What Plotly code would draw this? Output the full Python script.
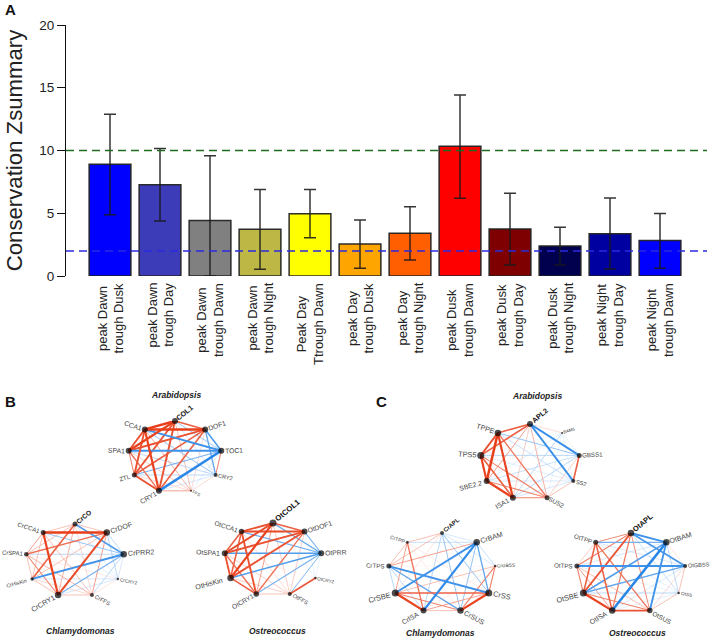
import math
import plotly.graph_objects as go

W, H = 714, 641

# ---------- panel A data ----------
categories = ["peak Dawn<br>trough Dusk", "peak Dawn<br>trough Day", "peak Dawn<br>trough Dawn",
              "peak Dawn<br>trough Night", "Peak Day<br>Ttrough Dawn", "peak Day<br>trough Dusk",
              "peak Day<br>trough Night", "peak Dusk<br>trough Dawn", "peak Dusk<br>trough Day",
              "peak Dusk<br>trough Night", "peak Night<br>trough Day", "peak Night<br>trough Dawn"]
zsummary = [8.9, 7.28, 4.43, 3.72, 4.97, 2.55, 3.4, 10.33, 3.75, 2.39, 3.37, 2.82]
err_up = [3.98, 2.87, 5.16, 3.18, 1.93, 1.91, 2.12, 4.09, 2.84, 1.49, 2.84, 2.17]
err_down = [4.01, 2.9, 4.43, 3.19, 1.92, 1.94, 2.13, 4.14, 2.87, 1.51, 2.81, 2.21]
bar_colors = ["#0000FF", "#3C3CB8", "#808080", "#BDB845", "#FFFF00", "#FFA500",
              "#FF5F00", "#FF0000", "#7F0000", "#00004F", "#0000A0", "#0000FF"]
threshold_high = 10
threshold_low = 2

# ---------- network data: upper-triangle edge rows, node order clockwise from the top ----------
b_arab_nodes = ["COL1", "DOF1", "TOC1", "CRY2", "FFS", "CRY1", "ZTL", "SPA1", "CCA1"]
b_arab_sizes = [6, 6, 6, 4, 2, 6, 5, 6, 6]
b_arab_edges = [[.7, -.4, -.2, .3, .8, .8, .9, 1], [-.7, -.6, .2, .7, .7, .8, 1],
                [.5, -.15, -1, -.5, -.8, -.8], [.2, -.2, -.3, -.3, -.4],
                [.4, .2, .25, .35], [.8, .6, .9], [.5, .8], [.8]]

b_chlamy_nodes = ["CrCO", "CrDOF", "CrPRR2", "CrCRY2", "CrFFS", "CrCRY1", "CrHisKin", "CrSPA1", "CrCCA1"]
b_chlamy_sizes = [5, 6.5, 6.5, 2.5, 4, 6.5, 3.5, 4.5, 5]
b_chlamy_edges = [[.3, -.7, -.15, .2, .35, .7, .3, .3], [-.3, -.3, .4, .85, .3, .6, 1],
                  [-.2, -.3, -.5, -.8, -.3, -.4], [.15, -.2, -.2, .1, -.15],
                  [.3, .2, .35, .3], [.3, .5, .9], [.3, .3], [.4]]

b_ostreo_nodes = ["OtCOL1", "OtDOF1", "OtPRR", "OtCRY2", "OtFFS", "OtCRY1", "OtHisKin", "OtSPA1", "OtCCA1"]
b_ostreo_sizes = [7, 6, 6, 2.5, 4, 5.5, 6.5, 6, 5.5]
b_ostreo_edges = [[.7, -.6, -.1, .25, .4, .9, .85, .8], [-.5, -.1, .25, .6, .8, .8, .85],
                  [-.1, -.45, -.5, -.7, -.7, -.55], [.75, 0, 0, .05, 0],
                  [.3, .25, .25, .2], [.7, .6, .8], [.8, .7], [.7]]

c_arab_nodes = ["APL2", "BAM6", "GBSS1", "SS2", "SUS2", "ISA1", "SBE2.2", "TPS5", "TPPE"]
c_arab_sizes = [6, 2, 5, 4, 5, 6, 6, 7, 6.5]
c_arab_edges = [[.2, -.85, -.85, .35, .25, .4, .7, .7], [-.1, -.1, -.1, -.3, -.15, -.05, 0],
                [.7, .25, -.3, -.25, -.3, -.4], [.3, -.2, -.2, -.15, -.25],
                [.5, .5, .5, .6], [.9, .7, .9], [.9, 1], [.8]]

c_chlamy_nodes = ["CrAPL", "CrBAM", "CrGBSS", "CrSS", "CrSUS", "CrISA", "CrSBE", "CrTPS", "CrTPP"]
c_chlamy_sizes = [4, 6.5, 2.5, 7, 6.5, 6, 7, 5, 3]
c_chlamy_edges = [[-.2, -.2, -.4, -.4, -.3, .15, .3, .3], [-.25, -.6, -.4, -.9, -.8, .4, -.25],
                  [.5, .5, .1, .3, .05, 0], [.9, .4, .7, -.8, .1],
                  [.3, .5, -.6, .1], [.9, -.3, .6], [-.3, .4], [.3]]

c_ostreo_nodes = ["OtAPL", "OtBAM", "OtGBSS", "OtSS", "OtSUS", "OtISA", "OtSBE", "OtTPS", "OtTPP"]
c_ostreo_sizes = [6.5, 6.5, 4, 2.5, 5.5, 6.5, 7, 5, 5]
c_ostreo_edges = [[-.8, -.75, -.25, .45, .55, .8, .5, .45], [.15, -.3, -.8, -1, -.7, -.2, -.5],
                  [.3, .2, -.2, -.6, -.8, -.2], [.3, -.15, -.3, -.1, -.15],
                  [.8, .5, .3, .6], [.9, .4, .7], [.5, .7], [.25]]

RED = (232, 62, 26)
BLUE = (42, 135, 232)


def px_x(p):
    return p / W


def px_y(p):
    return 1 - p / H


def edge_style(v):
    base = RED if v > 0 else BLUE
    a = min(1, abs(v) ** 0.7 * 1.05)
    col = tuple(round(255 + (c - 255) * a) for c in base)
    return "rgb(%d,%d,%d)" % col, 0.4 + 2.1 * abs(v) ** 1.6


fig = go.Figure()

# ---------- panel A ----------
xs = list(range(len(categories)))
fig.add_trace(go.Bar(
    x=xs, y=zsummary, width=0.835, showlegend=False, hoverinfo="skip",
    marker=dict(color=bar_colors, line=dict(color="rgba(35,35,35,0.95)", width=1.5)),
    error_y=dict(type="data", symmetric=False, array=err_up, arrayminus=err_down,
                 color="rgba(25,25,25,0.88)", thickness=1.5, width=6),
))

annotations = []
for i, c in enumerate(categories):
    annotations.append(dict(x=i, y=px_y(281), xref="x", yref="paper", text=c, textangle=-90,
                            showarrow=False, xanchor="center", yanchor="top", align="center",
                            font=dict(size=13, color="#222222", family="Liberation Sans")))

shapes = [
    dict(type="line", xref="x domain", yref="y", x0=0, x1=1, y0=threshold_high, y1=threshold_high,
         line=dict(color="#1F6B1F", width=1.5, dash="8px,5px"), layer="above"),
    dict(type="line", xref="x domain", yref="y", x0=0, x1=1, y0=threshold_low, y1=threshold_low,
         line=dict(color="#2A2AE0", width=1.5, dash="8px,5px"), layer="above"),
]

layout = dict(
    width=W, height=H, autosize=False, margin=dict(l=0, r=0, t=0, b=0, pad=0, autoexpand=False),
    paper_bgcolor="white", plot_bgcolor="rgba(0,0,0,0)", showlegend=False,
    font=dict(family="Liberation Sans", color="#222222"),
    xaxis=dict(domain=[px_x(66), px_x(707)], range=[-0.88, 11.94], visible=False),
    yaxis=dict(domain=[px_y(276), px_y(25)], range=[0, 20], tickvals=[0, 5, 10, 15, 20],
               showline=True, linecolor="#111111", linewidth=1.2, ticks="outside", ticklen=8,
               tickwidth=1.2, tickcolor="#111111", showgrid=False, zeroline=False,
               tickfont=dict(size=13.5, color="#222222"),
               title=dict(text="Conservation Zsummary", standoff=10,
                          font=dict(size=22.2, color="#222222"))),
)

# ---------- panels B, C ----------
networks = [
    (b_arab_nodes, b_arab_sizes, b_arab_edges, (175, 457, 47, 36)),
    (b_chlamy_nodes, b_chlamy_sizes, b_chlamy_edges, (75, 560.6, 49.5, 36.6)),
    (b_ostreo_nodes, b_ostreo_sizes, b_ostreo_edges, (273, 559.6, 49, 36.6)),
    (c_arab_nodes, c_arab_sizes, c_arab_edges, (530, 462, 50, 38)),
    (c_chlamy_nodes, c_chlamy_sizes, c_chlamy_edges, (442, 573, 54, 40)),
    (c_ostreo_nodes, c_ostreo_sizes, c_ostreo_edges, (631, 573, 55, 40)),
]
label_angles = [-40, -18, -3, 12, 28, -30, -15, 3, 18]

for n, (nodes, sizes, edges, (cx, cy, rx, ry)) in enumerate(networks):
    k = n + 2
    layout["xaxis%d" % k] = dict(domain=[px_x(cx - rx), px_x(cx + rx)], range=[-1, 1], visible=False)
    layout["yaxis%d" % k] = dict(domain=[px_y(cy + ry), px_y(cy - ry)], range=[-1, 1], visible=False)
    theta = [2 * math.pi * i / len(nodes) for i in range(len(nodes))]
    nx = [math.sin(t) for t in theta]
    ny = [math.cos(t) for t in theta]
    pairs = []
    for i, row in enumerate(edges):
        for off, v in enumerate(row):
            if v != 0:
                pairs.append((abs(v), i, i + 1 + off, v))
    for _, i, j, v in sorted(pairs):
        col, wid = edge_style(v)
        fig.add_trace(go.Scatter(x=[nx[i], nx[j]], y=[ny[i], ny[j]], mode="lines",
                                 xaxis="x%d" % k, yaxis="y%d" % k, cliponaxis=False,
                                 line=dict(color=col, width=wid), hoverinfo="skip", showlegend=False))
    fig.add_trace(go.Scatter(x=nx, y=ny, mode="markers", xaxis="x%d" % k, yaxis="y%d" % k,
                             cliponaxis=False, hoverinfo="skip", showlegend=False,
                             marker=dict(color="black", size=sizes, line=dict(width=0))))
    for i, name in enumerate(nodes):
        top = i == 0
        fs = 3.2 + 0.6 * sizes[i] + (0.4 if top else 0)
        half = 0.31 * fs * len(name) + sizes[i] / 2 + 1
        side = 1 if i <= 4 else -1
        a = math.radians(label_angles[i])
        annotations.append(dict(
            x=nx[i], y=ny[i], xref="x%d" % k, yref="y%d" % k, showarrow=False,
            text="<b>%s</b>" % name if top else name, textangle=label_angles[i],
            xanchor="center", yanchor="middle",
            xshift=side * math.cos(a) * half,
            yshift=-side * math.sin(a) * half,
            font=dict(size=fs, color="#111111" if top else "#444444", family="Liberation Sans"),
        ))

# ---------- titles and panel letters ----------
titles = ["Arabidopsis", "Chlamydomonas", "Ostreococcus", "Arabidopsis", "Chlamydomonas", "Ostreococcus"]
title_x = [176, 80, 277, 537, 440, 637]
title_y = [395, 631, 631, 396, 633, 633]
for t, x, y in zip(titles, title_x, title_y):
    annotations.append(dict(x=px_x(x), y=px_y(y), xref="paper", yref="paper", showarrow=False,
                            text="<b><i>%s</i></b>" % t, xanchor="center", yanchor="middle",
                            font=dict(size=8.5, color="#222222", family="Liberation Sans")))

panel_letters = ["A", "B", "C"]
letter_x = [10, 10, 381]
letter_y = [10, 402, 402]
for t, x, y in zip(panel_letters, letter_x, letter_y):
    annotations.append(dict(x=px_x(x), y=px_y(y), xref="paper", yref="paper", showarrow=False,
                            text="<b>%s</b>" % t, xanchor="center", yanchor="middle",
                            font=dict(size=15, color="#111111", family="Liberation Sans")))

layout["annotations"] = annotations
layout["shapes"] = shapes
fig.update_layout(**layout)
fig.write_html("out.html", config=dict(displayModeBar=False),
               post_script="document.body.style.margin='0';")
